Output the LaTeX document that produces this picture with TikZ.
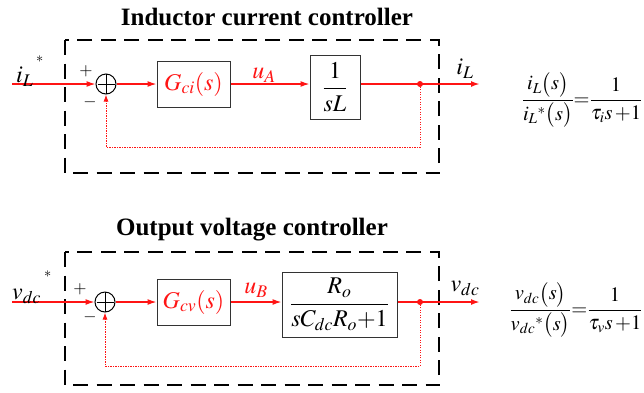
\documentclass[tikz,border=0pt]{standalone}
\usepackage{amsmath}
\usepackage{mathptmx}
\usepackage{fontspec}
\setmainfont{Liberation Serif}
\usetikzlibrary{arrows.meta,calc}
\definecolor{sigred}{RGB}{255,20,20}
\tikzset{
  ttl/.style={font=\fontsize{25}{28}\selectfont\bfseries, inner sep=0pt},
  lab/.style={font=\fontsize{24}{28}\selectfont, inner sep=0pt},
  pm/.style={font=\fontsize{17}{20}\selectfont, inner sep=0pt},
  eqn/.style={font=\fontsize{20.5}{24}\selectfont, inner sep=0pt},
  blk/.style={draw=black!80, line width=1pt, inner sep=0pt, font=\fontsize{24}{28}\selectfont},
  sumj/.style={circle, draw=black, line width=1pt, minimum size=20pt, inner sep=0pt,
    path picture={\draw[line width=1pt] ($(path picture bounding box.west)+(1.5,0)$) -- ($(path picture bounding box.east)+(-1.5,0)$);
                  \draw[line width=1pt] ($(path picture bounding box.north)+(0,-1.5)$) -- ($(path picture bounding box.south)+(0,1.5)$);}},
  sig/.style={draw=sigred, line width=1.3pt, -{Latex[length=9pt,width=6pt]}},
  outl/.style={draw=sigred, line width=1.8pt, -{Latex[length=9pt,width=6pt]}},
  fb/.style={draw=sigred, line width=1pt, dash pattern=on 1.2pt off 1.3pt, -{Latex[length=7pt,width=5pt]}},
  frame/.style={draw=black, line width=1.8pt, dash pattern=on 15pt off 8.5pt},
}
\begin{document}
\begin{tikzpicture}[x=1pt,y=-1pt]
\useasboundingbox (0,0) rectangle (644,392);

% ---------- Inductor current controller ----------
\node[ttl] (t1) at (267,17) {Inductor current controller};
\draw[frame] (65,40) rectangle (439,173);
\coordinate (in1) at (12,84);
\node[sumj] (s1) at (106,84) {};
\node[blk, minimum width=73pt, minimum height=46pt, text=sigred] (g1) at (193.5,84) {$G_{ci}(s)$};
\node[blk, minimum width=50pt, minimum height=64pt] (p1) at (335,87) {$\dfrac{1}{sL}$};
\coordinate (d1) at (420,84);
\coordinate (o1) at (480,84);
\coordinate (f1) at (106,147);
\draw[sig] (in1) -- (s1.west);
\draw[sig] (s1.east) -- (g1.west);
\draw[sig] (g1.east) -- (g1.east -| p1.west);
\draw[outl] (s1 -| p1.east) -- (o1);
\fill[sigred] (d1) circle (3pt);
\draw[fb] (d1) -- (d1 |- f1) -- (f1) -- (s1.south);
\node[pm] (pl1) at (86,71) {$+$};
\node[pm] (mi1) at (90,102) {$-$};
\node[lab, text=sigred] (ua) at (264,75) {$u_A$};
\node[lab] (il1) at (30,71) {$i_L{}^{\mkern3mu\raisebox{0.5em}{$\scriptscriptstyle *$}}$};
\node[lab] (ilo) at (465,69) {$i_L$};
\node[eqn] (e1) at (582,100) {$\dfrac{i_L\bigl(s\bigr)}{i_L{}^{*}\bigl(s\bigr)}{=}\dfrac{1}{\tau_i s\,{+}1}$};

% ---------- Output voltage controller ----------
\node[ttl] (t2) at (252,230) {Output voltage controller};
\draw[frame] (65,252) rectangle (439,385);
\coordinate (in2) at (12,302);
\node[sumj] (s2) at (105,302) {};
\node[blk, minimum width=73pt, minimum height=46pt, text=sigred] (g2) at (193.5,302) {$G_{cv}(s)$};
\node[blk, minimum width=115pt, minimum height=65pt] (p2) at (339.5,304.5) {$\dfrac{R_o}{sC_{dc}R_o{+}1}$};
\coordinate (d2) at (420,302);
\coordinate (o2) at (480,302);
\coordinate (f2) at (105,366);
\draw[sig] (in2) -- (s2.west);
\draw[sig] (s2.east) -- (g2.west);
\draw[sig] (g2.east) -- (g2.east -| p2.west);
\draw[outl] (s2 -| p2.east) -- (o2);
\fill[sigred] (d2) circle (3pt);
\draw[fb] (d2) -- (d2 |- f2) -- (f2) -- (s2.south);
\node[pm] (pl2) at (80,289) {$+$};
\node[pm] (mi2) at (90,317) {$-$};
\node[lab, text=sigred] (ub) at (256,290) {$u_B$};
\node[lab] (vd1) at (32,287) {$v_{dc}{}^{\mkern3mu\raisebox{0.55em}{$\scriptscriptstyle *$}}$};
\node[lab] (vdo) at (465,288) {$v_{dc}$};
\node[eqn] (e2) at (576,310) {$\dfrac{v_{dc}\bigl(s\bigr)}{v_{dc}{}^{*}\bigl(s\bigr)}{=}\dfrac{1}{\tau_v s\,{+}1}$};
\end{tikzpicture}
\end{document}
